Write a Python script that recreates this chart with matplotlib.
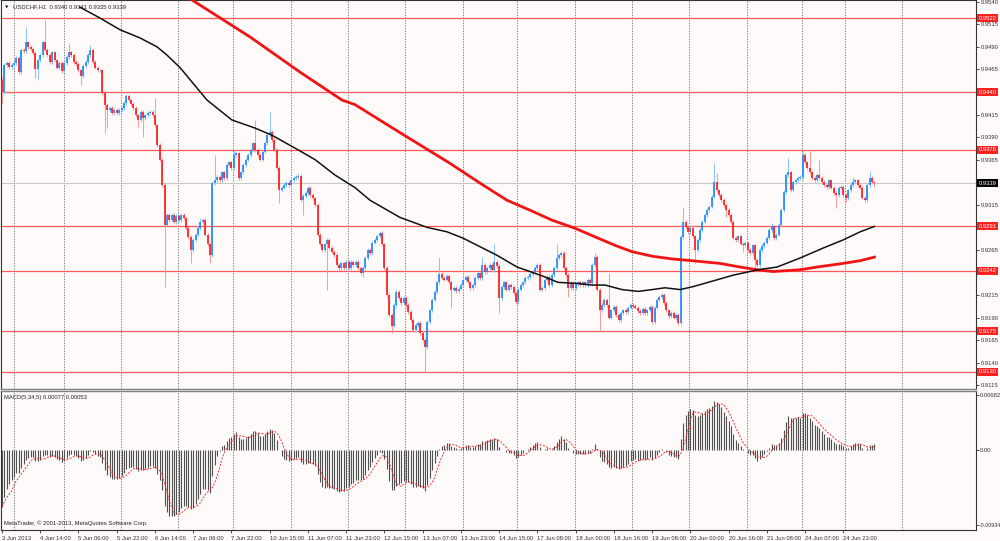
"""USDCHF H1 chart with MACD(5,34,5), drawn in the MetaTrader 4 look."""

import matplotlib

matplotlib.use("Agg")
import matplotlib.pyplot as plt
import numpy as np
from matplotlib.transforms import blended_transform_factory

plt.rcParams["font.family"] = ["Liberation Sans", "DejaVu Sans"]

# hourly closes in pips (0.0001), bar 0 = first bar on the chart
CLOSE_PIPS = [
    9440, 9470, 9472, 9468, 9470, 9472, 9478, 9462, 9487, 9485, 9495, 9490, 9488, 9483, 9465, 9475,
    9481, 9495, 9487, 9481, 9473, 9484, 9475, 9467, 9472, 9463, 9472, 9479, 9484, 9481, 9473, 9471,
    9464, 9458, 9469, 9473, 9481, 9487, 9473, 9467, 9464, 9464, 9439, 9426, 9420, 9422, 9417, 9420,
    9417, 9420, 9422, 9428, 9436, 9431, 9427, 9422, 9414, 9409, 9418, 9411, 9414, 9417, 9418, 9414,
    9403, 9381, 9365, 9337, 9293, 9304, 9298, 9304, 9296, 9303, 9298, 9304, 9300, 9289, 9279, 9265,
    9276, 9282, 9289, 9296, 9298, 9282, 9271, 9259, 9339, 9342, 9346, 9342, 9351, 9345, 9359, 9362,
    9356, 9370, 9372, 9345, 9351, 9359, 9365, 9370, 9376, 9383, 9376, 9370, 9365, 9374, 9383, 9392,
    9396, 9387, 9376, 9356, 9331, 9334, 9337, 9339, 9337, 9342, 9345, 9346, 9347, 9320, 9325, 9328,
    9334, 9326, 9322, 9315, 9282, 9271, 9265, 9271, 9276, 9267, 9263, 9259, 9248, 9245, 9250, 9245,
    9252, 9245, 9252, 9248, 9252, 9245, 9239, 9245, 9256, 9265, 9261, 9273, 9276, 9280, 9284, 9271,
    9245, 9215, 9193, 9181, 9204, 9218, 9212, 9206, 9212, 9204, 9196, 9187, 9176, 9182, 9184, 9173,
    9165, 9157, 9185, 9198, 9210, 9218, 9229, 9238, 9234, 9232, 9236, 9229, 9221, 9223, 9219, 9222,
    9226, 9232, 9235, 9229, 9223, 9226, 9234, 9239, 9234, 9248, 9240, 9245, 9248, 9243, 9252, 9247,
    9212, 9224, 9229, 9221, 9226, 9224, 9217, 9207, 9221, 9226, 9229, 9234, 9235, 9238, 9241, 9245,
    9248, 9221, 9223, 9232, 9235, 9226, 9237, 9245, 9256, 9259, 9262, 9245, 9237, 9223, 9228, 9223,
    9227, 9229, 9226, 9229, 9226, 9232, 9228, 9248, 9257, 9221, 9198, 9204, 9210, 9204, 9190, 9198,
    9202, 9193, 9187, 9195, 9198, 9196, 9201, 9204, 9203, 9201, 9197, 9195, 9200, 9195, 9198, 9202,
    9185, 9201, 9210, 9213, 9215, 9206, 9198, 9192, 9195, 9190, 9193, 9184, 9279, 9296, 9290, 9285,
    9289, 9280, 9265, 9276, 9287, 9296, 9304, 9309, 9313, 9324, 9340, 9331, 9326, 9320, 9315, 9309,
    9304, 9296, 9278, 9276, 9280, 9272, 9270, 9273, 9265, 9261, 9270, 9254, 9248, 9265, 9269, 9273,
    9278, 9287, 9291, 9278, 9282, 9293, 9309, 9329, 9348, 9351, 9331, 9340, 9342, 9345, 9346, 9370,
    9362, 9356, 9351, 9345, 9342, 9348, 9345, 9340, 9337, 9335, 9342, 9334, 9328, 9326, 9334, 9335,
    9326, 9322, 9331, 9337, 9340, 9342, 9337, 9334, 9323, 9320, 9337, 9345, 9340, 9339,
]
FIRST_OPEN_PIPS = 9453

# long wicks: bar index -> pips
HIGH_PIPS = {
    0: 9458, 10: 9512, 18: 9520, 28: 9494, 37: 9492, 64: 9433, 83: 9300, 89: 9370, 97: 9376,
    106: 9409, 112: 9418, 124: 9350, 183: 9257, 201: 9257, 206: 9271, 232: 9271, 248: 9261,
    254: 9239, 285: 9313, 298: 9361, 299: 9350, 322: 9295, 329: 9367, 335: 9376, 338: 9376,
    342: 9365, 356: 9346, 363: 9353, 365: 9341,
}
LOW_PIPS = {
    0: 9428, 14: 9456, 15: 9453, 33: 9448, 43: 9395, 44: 9400, 57: 9400, 59: 9390, 68: 9224,
    79: 9250, 87: 9250, 116: 9317, 126: 9304, 136: 9221, 151: 9235, 163: 9173, 177: 9130,
    188: 9201, 208: 9195, 237: 9213, 250: 9174, 290: 9250, 303: 9302, 310: 9263, 315: 9245,
    349: 9311, 353: 9318, 365: 9335,
}
WICK_PIPS = 2  # drawn wick beyond the body for the other bars

# moving averages (bar index, price)
BLACK_MA_BARS = [32.6, 34.7, 41, 49.4, 57.7, 64.9, 69, 74.5, 85.8, 96.2, 105.9, 113, 123.8, 131,
                 139.3, 147.7, 154, 166.5, 177.8, 186.2, 192.9, 207.1, 215.5, 220.9, 227.2, 232.6,
                 239.7, 246.9, 252.3, 259.4, 266.1, 272, 277.4, 283.7, 288.7, 294.1, 305.9, 316.3,
                 324.3, 333.9, 343.5, 351.9, 359, 365]
BLACK_MA = [0.9534, 0.9531, 0.9522, 0.9509, 0.9500, 0.9490, 0.9481, 0.9467, 0.9431, 0.9409,
            0.9400, 0.9392, 0.9376, 0.9365, 0.9348, 0.9334, 0.9320, 0.9301, 0.9290, 0.9285,
            0.9278, 0.9259, 0.9246, 0.9241, 0.9235, 0.9229, 0.9228, 0.9226, 0.9226, 0.9221,
            0.9219, 0.9221, 0.9223, 0.9221, 0.9224, 0.9228, 0.9237, 0.9243, 0.9246, 0.9256,
            0.9267, 0.9276, 0.9285, 0.9291]
RED_MA_BARS = [79.5, 103.8, 124.7, 142.3, 147.7, 166.5, 187.4, 200, 211.3, 220.9, 230.1, 239.7,
               249.4, 256.5, 263.6, 272, 280.3, 288.7, 300.4, 308.8, 315.9, 322.6, 333.9, 341,
               351.9, 359, 365]
RED_MA = [0.9542, 0.9501, 0.9462, 0.9431, 0.9426, 0.9395, 0.9361, 0.9339, 0.9320, 0.9309,
          0.9298, 0.9289, 0.9278, 0.9270, 0.9263, 0.9258, 0.9255, 0.9253, 0.9250, 0.9246,
          0.9243, 0.9241, 0.9243, 0.9246, 0.9250, 0.9253, 0.9257]

LEVELS = [0.9522, 0.9440, 0.9376, 0.9291, 0.9242, 0.9175, 0.9130]
BID = 0.9339
PRICE_TICKS = [0.9540, 0.9515, 0.9490, 0.9465, 0.9415, 0.9390, 0.9365, 0.9315, 0.9265,
               0.9215, 0.9190, 0.9165, 0.9140, 0.9115]

MACD_FAST, MACD_SLOW, MACD_SIGNAL = 5, 34, 5
MACD_START = -0.0070  # main line value at the first bar
MACD_TICKS = [0.00682, 0.0, -0.00934]
MACD_TICK_LABELS = ["0.00682", "0.00", "-0.00934"]

DATE_LABELS = ["3 Jun 2013", "4 Jun 14:00", "5 Jun 06:00", "5 Jun 22:00", "6 Jun 14:00",
               "7 Jun 06:00", "7 Jun 22:00", "10 Jun 15:00", "11 Jun 07:00", "11 Jun 23:00",
               "12 Jun 15:00", "13 Jun 07:00", "13 Jun 23:00", "14 Jun 15:00", "17 Jun 08:00",
               "18 Jun 00:00", "18 Jun 16:00", "19 Jun 08:00", "20 Jun 00:00", "20 Jun 16:00",
               "21 Jun 08:00", "24 Jun 07:00", "24 Jun 23:00"]
DATE_STEP = 16
GRID_BARS = [5.0, 25.9, 49.8, 73.6, 96.7, 120.9, 144.8, 168.6, 192.9, 215.5, 239.7, 263.6,
             287.5, 311.7, 334.7, 352.7, 376.6]

BG = "#fefafa"
UP, DOWN = "#1e8cff", "#ff1e1e"
UP_WICK, DOWN_WICK = "#8cc4ff", "#ff9a9a"
FS = 4.2


def ema(values, period, seed):
    k = 2.0 / (period + 1)
    out = np.empty_like(values)
    prev = seed
    for i, v in enumerate(values):
        if i:
            prev = prev + k * (v - prev)
        out[i] = prev
    return out


close = np.array(CLOSE_PIPS) / 10000.0
opens = np.concatenate([[FIRST_OPEN_PIPS / 10000.0], close[:-1]])
bars = np.arange(len(close))
top = np.maximum(opens, close)
bot = np.minimum(opens, close)
high = top + WICK_PIPS / 10000.0
low = bot - WICK_PIPS / 10000.0
for i, v in HIGH_PIPS.items():
    high[i] = max(v / 10000.0, top[i])
for i, v in LOW_PIPS.items():
    low[i] = min(v / 10000.0, bot[i])
up = close >= opens

macd = ema(close, MACD_FAST, close[0]) - ema(close, MACD_SLOW, close[0] - MACD_START)
signal = np.array([macd[max(0, i - MACD_SIGNAL + 1):i + 1].mean() for i in range(len(macd))])

W, H = 1000, 541
fig = plt.figure(figsize=(W / 100, H / 100), dpi=100, facecolor=BG)


def px_axes(x0, y0, x1, y1):
    return fig.add_axes([x0 / W, 1 - y1 / H, (x1 - x0) / W, (y1 - y0) / H], facecolor=BG)


ax = px_axes(1, 0, 976, 389)
mx = px_axes(1, 391, 976, 530)
xlim = (-0.42, 407.5)

# price panel
for g in GRID_BARS:
    ax.axvline(g, color="#6a6a6a", lw=0.6, ls=(0, (1.6, 1.6)), zorder=1)
for lv in LEVELS:
    ax.axhline(lv, color="#ff5a5a", lw=0.9, zorder=2)
ax.axhline(BID, color="#c8c8c8", lw=0.8, zorder=2)

ax.vlines(bars[up], low[up], high[up], color=UP_WICK, lw=0.75, zorder=3)
ax.vlines(bars[~up], low[~up], high[~up], color=DOWN_WICK, lw=0.75, zorder=3)
ax.vlines(bars[up], bot[up], top[up], color=UP, lw=1.25, zorder=4)
ax.vlines(bars[~up], bot[~up], top[~up], color=DOWN, lw=1.25, zorder=4)

ax.plot(RED_MA_BARS, RED_MA, color="#f01414", lw=2.0, zorder=5)
ax.plot(BLACK_MA_BARS, BLACK_MA, color="#111111", lw=1.1, zorder=6)

ax.set_xlim(*xlim)
ax.set_ylim(0.91108, 0.95420)
ax.set_xticks([])
ax.yaxis.tick_right()
ax.set_yticks(PRICE_TICKS)
ax.set_yticklabels([f"{t:.4f}" for t in PRICE_TICKS])
ax.tick_params(axis="y", labelsize=FS, length=2, width=0.6, pad=1.2, colors="#333333")

trans = blended_transform_factory(ax.transAxes, ax.transData)
for lv in LEVELS:
    ax.text(1.003, lv, f"{lv:.4f}", transform=trans, fontsize=FS, color="white", va="center",
            ha="left", clip_on=False, zorder=10,
            bbox=dict(boxstyle="square,pad=0.25", fc="#ff2020", ec="none"))
ax.text(1.003, BID, f"{BID:.4f}", transform=trans, fontsize=FS, color="white", va="center",
        ha="left", clip_on=False, zorder=10,
        bbox=dict(boxstyle="square,pad=0.25", fc="#000000", ec="none"))

ax.text(0.004, 0.985, "\u25bc", transform=ax.transAxes, fontsize=3.2, va="top", ha="left",
        family=["DejaVu Sans"], color="#222222")
ax.text(0.012, 0.988, "USDCHF,H1  0.9340 0.9341 0.9335 0.9339", transform=ax.transAxes,
        fontsize=FS, va="top", ha="left", color="#222222")

for s in ax.spines.values():
    s.set_color("#333333")
    s.set_linewidth(0.8)
ax.spines["bottom"].set_color("#808080")
ax.spines["bottom"].set_linewidth(1.0)

# MACD panel
for g in GRID_BARS:
    mx.axvline(g, color="#6a6a6a", lw=0.6, ls=(0, (1.6, 1.6)), zorder=1)
mx.vlines(bars, 0, macd, color="#505050", lw=0.8, zorder=3)
mx.plot(bars, signal, color="#ff2a2a", lw=0.7, ls=(0, (2, 1.5)), zorder=4)
mx.set_xlim(*xlim)
mx.set_ylim(-0.0099, 0.0073)
mx.yaxis.tick_right()
mx.set_yticks(MACD_TICKS)
mx.set_yticklabels(MACD_TICK_LABELS)
mx.tick_params(axis="y", labelsize=FS, length=2, width=0.6, pad=0.6, colors="#333333")
date_ticks = np.arange(len(DATE_LABELS)) * DATE_STEP
mx.set_xticks(date_ticks)
mx.set_xticklabels(DATE_LABELS, ha="left")
mx.tick_params(axis="x", labelsize=FS, length=2.5, width=0.6, pad=1.5, colors="#333333")
mx.text(0.003, 0.97, "MACD(5,34,5) 0.00077 0.00053", transform=mx.transAxes, fontsize=FS,
        va="top", ha="left", color="#222222")
mx.text(0.003, 0.03, "MetaTrader, \u00a9 2001-2013, MetaQuotes Software Corp.",
        transform=mx.transAxes, fontsize=FS, va="bottom", ha="left", color="#222222")
for s in mx.spines.values():
    s.set_color("#333333")
    s.set_linewidth(0.8)
mx.spines["top"].set_color("#808080")
mx.spines["top"].set_linewidth(1.0)

# the lowest MACD label sits right against the image edge, as in the terminal
mx.get_yticklabels()[-1].set_fontsize(FS - 0.4)

fig.savefig("out.png", dpi=100, facecolor=BG)
